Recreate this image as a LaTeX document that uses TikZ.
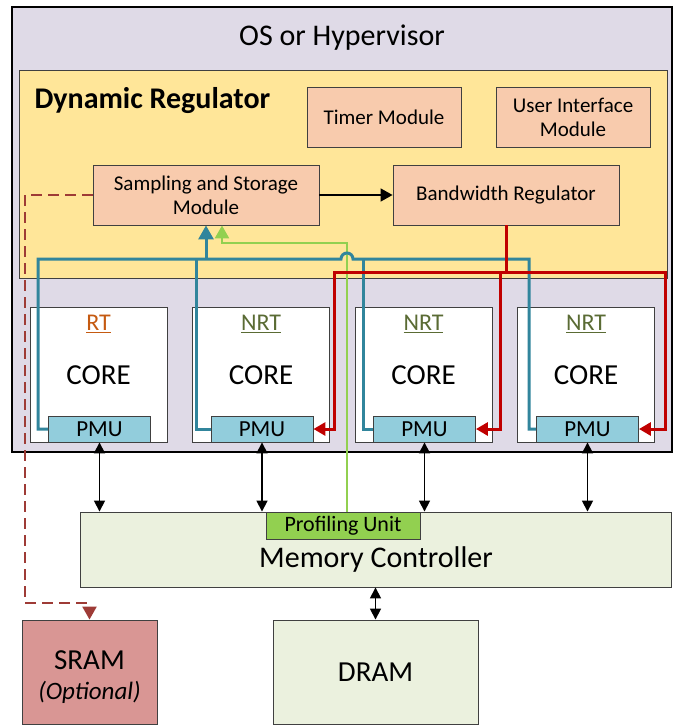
\documentclass[tikz,border=0pt]{standalone}
\usepackage{fontspec}
\setmainfont{Carlito}
\usetikzlibrary{arrows.meta}
\definecolor{oslav}{HTML}{DFDAE7}
\definecolor{regyellow}{HTML}{FFE699}
\definecolor{modorange}{HTML}{F8CBAD}
\definecolor{pmucyan}{HTML}{92CDDC}
\definecolor{wireblue}{HTML}{31859C}
\definecolor{wirered}{HTML}{C00000}
\definecolor{wiregreen}{HTML}{92D050}
\definecolor{memgreen}{HTML}{EBF1DE}
\definecolor{sramred}{HTML}{D99694}
\definecolor{dashbrown}{HTML}{9E3B36}
\definecolor{rtbrown}{HTML}{C55A11}
\definecolor{nrtolive}{HTML}{5A6B34}
\definecolor{edgegray}{HTML}{404040}
\begin{document}
\begin{tikzpicture}[
  x=1pt,y=-1pt,
  every node/.style={font=\fontsize{21}{24}\selectfont},
  box/.style={draw=edgegray,line width=0.9pt,inner sep=0pt,align=center},
  module/.style={box,fill=modorange,minimum height=60pt},
  corebox/.style={box,fill=white,minimum width=137pt,minimum height=135pt},
  pmubox/.style={box,fill=pmucyan,minimum width=102pt,minimum height=26pt,font=\fontsize{23}{26}\selectfont},
  bigtext/.style={font=\fontsize{29}{32}\selectfont},
  tagtext/.style={font=\fontsize{24}{26}\selectfont},
  bluewire/.style={draw=wireblue,line width=3pt},
  redwire/.style={draw=wirered,line width=3pt,-{Triangle[length=12pt,width=13pt]}},
  greenwire/.style={draw=wiregreen,line width=2.5pt,-{Triangle[length=13pt,width=14pt]}},
  busarrow/.style={draw=black,line width=1.7pt,{Triangle[length=11pt,width=11pt]}-{Triangle[length=11pt,width=11pt]}},
  dashwire/.style={draw=dashbrown,line width=2.5pt,dash pattern=on 11pt off 6pt,-{Triangle[length=13pt,width=14pt]}}
]
\useasboundingbox (0,0) rectangle (681,725);

\node[box,draw=black,line width=1.2pt,fill=oslav,minimum width=660pt,minimum height=445pt] (os) at (342,229.5) {};
\node[font=\fontsize{30}{34}\selectfont] (ostitle) at (342,38) {OS or Hypervisor};

\node[box,fill=regyellow,minimum width=648pt,minimum height=208pt] (dr) at (343,174) {};
\node[anchor=west,font=\fontsize{30}{34}\selectfont\bfseries] (drtitle) at (31,101) {Dynamic Regulator};
\node[module,minimum width=154pt] (timer) at (384,117.5) {Timer Module};
\node[module,minimum width=154pt] (ui) at (573,117.5) {User Interface\\Module};
\node[module,minimum width=226pt] (ssm) at (206,195) {Sampling and Storage\\Module};
\node[module,minimum width=226pt] (bwr) at (506,195) {Bandwidth Regulator};

\node[corebox] (core1) at (98.5,374.5) {};
\node[corebox] (core2) at (261,374.5) {};
\node[corebox] (core3) at (423.5,374.5) {};
\node[corebox] (core4) at (586,374.5) {};
\node[tagtext,text=rtbrown] (tag1) at (98.5,324) {\underline{RT}};
\node[tagtext,text=nrtolive] (tag2) at (261,324) {\underline{NRT}};
\node[tagtext,text=nrtolive] (tag3) at (423.5,324) {\underline{NRT}};
\node[tagtext,text=nrtolive] (tag4) at (586,324) {\underline{NRT}};
\node[bigtext] (name1) at (98.5,375) {CORE};
\node[bigtext] (name2) at (261,375) {CORE};
\node[bigtext] (name3) at (423.5,375) {CORE};
\node[bigtext] (name4) at (586,375) {CORE};
\node[pmubox] (pmu1) at (99.5,429) {PMU};
\node[pmubox] (pmu2) at (262,429) {PMU};
\node[pmubox] (pmu3) at (424.5,429) {PMU};
\node[pmubox] (pmu4) at (587.5,429) {PMU};

\node[box,fill=memgreen,minimum width=591pt,minimum height=75pt] (mc) at (375.5,549.5) {};
\node[font=\fontsize{30}{34}\selectfont] (mctext) at (376,559) {Memory Controller};
\node[box,fill=wiregreen,minimum width=154pt,minimum height=27pt,font=\fontsize{22}{24}\selectfont] (prof) at (343,525.5) {Profiling Unit};
\node[box,fill=memgreen,minimum width=205pt,minimum height=104pt,bigtext] (dram) at (375.5,672) {DRAM};
\node[box,fill=sramred,minimum width=135pt,minimum height=104pt] (sram) at (89.5,672) {};
\node[bigtext] (sramtext) at (89.5,660) {SRAM};
\node[font=\fontsize{25}{28}\selectfont\itshape] (sramnote) at (89.5,692) {(Optional)};

\coordinate (b1) at (38,259);
\coordinate (b2) at (196,259);
\coordinate (b3) at (363,259);
\coordinate (b4) at (529,259);
\coordinate (hop) at (347,259);
\coordinate (gtop) at (347,243);
\coordinate (rbus) at (506,272);
\coordinate (r2) at (334,272);
\coordinate (r3) at (500,272);
\coordinate (r4) at (665,272);
\coordinate (dcorner) at (25,603);

\draw[->,line width=1.7pt,-{Triangle[length=12pt,width=13pt]}] (ssm) -- (bwr);

\draw[greenwire] (gtop |- prof.north) -- (gtop) -| ([xshift=16pt]ssm.south);
\draw[bluewire] (pmu1.west) -| (b1) -- ([xshift=-6pt]hop) arc[start angle=180,end angle=360,radius=6] -- (b4) |- (pmu4.west);
\draw[bluewire] (b2) |- (pmu2.west);
\draw[bluewire] (b3) |- (pmu3.west);
\draw[bluewire,-{Triangle[length=14pt,width=15pt]}] (b1 -| ssm.south) -- (ssm.south);

\draw[wirered,line width=3pt] (bwr.south) -- (rbus);
\draw[redwire] (rbus) -- (r2) |- (pmu2.east);
\draw[redwire] (rbus) -- (r4) |- (pmu4.east);
\draw[redwire] (r3) |- (pmu3.east);

\draw[busarrow] (pmu1.south) -- (pmu1.south |- mc.north);
\draw[busarrow] (pmu2.south) -- (pmu2.south |- mc.north);
\draw[busarrow] (pmu3.south) -- (pmu3.south |- mc.north);
\draw[busarrow] (pmu4.south) -- (pmu4.south |- mc.north);
\draw[busarrow] (mc.south -| dram.north) -- (dram.north);

\draw[dashwire] (ssm.west) -| (dcorner) -| (sram.north);
\end{tikzpicture}
\end{document}
